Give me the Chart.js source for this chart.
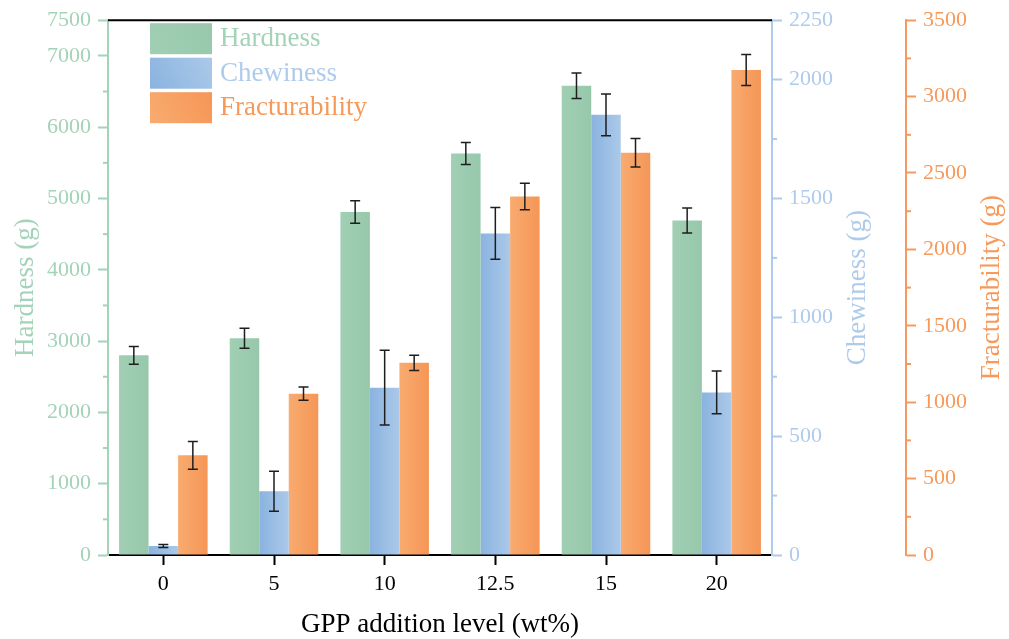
<!DOCTYPE html>
<html>
<head>
<meta charset="utf-8">
<script src="https://cdn.jsdelivr.net/npm/chart.js@4"></script>
<style>
  html, body { margin: 0; padding: 0; background: #fff; }
</style>
</head>
<body>
<canvas id="myChart" width="1009" height="639"></canvas>
<script>
// GPP addition level (wt%)
const levels = ['0', '5', '10', '12.5', '15', '20'];

const hardness = [2800, 3040, 4810, 5630, 6580, 4690];
const hardnessErr = [125, 140, 158, 154, 179, 175];

const chewiness = [38, 268, 704, 1353, 1852, 684];
const chewinessErr = [6, 84, 157, 109, 88, 90];

const fracturability = [652, 1056, 1258, 2346, 2633, 3174];
const fracturabilityErr = [90, 43, 50, 87, 93, 101];

const serif = 'Liberation Serif';
const greenText = '#a3d3b8', blueText = '#aecbeb', orangeText = '#f6995a';

// minor ticks get no label and a short tick
function isMajor(id, v) {
  if (id === 'yH') return v % 1000 === 0 || v === 7500;
  if (id === 'yC') return v % 500 === 0 || v === 2250;
  return v % 500 === 0;
}

const extras = {
  id: 'extras',
  beforeDatasetsDraw(chart) {
    const ctx = chart.ctx;
    chart.data.datasets.forEach((ds, i) => {
      chart.getDatasetMeta(i).data.forEach(bar => {
        const g = ctx.createLinearGradient(bar.x - bar.width / 2, 0, bar.x + bar.width / 2, 0);
        g.addColorStop(0, ds.gradFrom);
        g.addColorStop(1, ds.gradTo);
        bar.options = Object.assign({}, bar.options, { backgroundColor: g });
      });
    });
  },
  afterDatasetsDraw(chart) {
    const ctx = chart.ctx;
    ctx.save();
    ctx.strokeStyle = '#1e1e1e';
    ctx.lineWidth = 1.5;
    chart.data.datasets.forEach((ds, i) => {
      const scale = chart.scales[ds.yAxisID];
      chart.getDatasetMeta(i).data.forEach((bar, j) => {
        const v = ds.data[j], e = ds.err[j];
        const y1 = scale.getPixelForValue(v + e), y2 = scale.getPixelForValue(v - e);
        ctx.beginPath();
        ctx.moveTo(bar.x, y1); ctx.lineTo(bar.x, y2);
        ctx.moveTo(bar.x - 5, y1); ctx.lineTo(bar.x + 5, y1);
        ctx.moveTo(bar.x - 5, y2); ctx.lineTo(bar.x + 5, y2);
        ctx.stroke();
      });
    });
    ctx.restore();
  },
  afterDraw(chart) {
    const ctx = chart.ctx;
    const area = chart.chartArea;
    ctx.save();

    // top frame line
    ctx.strokeStyle = '#000';
    ctx.lineWidth = 2;
    ctx.beginPath();
    ctx.moveTo(area.left, area.top);
    ctx.lineTo(area.right, area.top);
    ctx.stroke();

    // minor ticks
    ['yH', 'yC', 'yF'].forEach(id => {
      const s = chart.scales[id];
      const x0 = id === 'yH' ? s.right : s.left;
      const dir = id === 'yH' ? -1 : 1;
      ctx.strokeStyle = s.options.border.color;
      ctx.lineWidth = 2;
      s.ticks.forEach(t => {
        if (isMajor(id, t.value)) return;
        const y = s.getPixelForValue(t.value);
        ctx.beginPath();
        ctx.moveTo(x0, y);
        ctx.lineTo(x0 + dir * 5, y);
        ctx.stroke();
      });
    });

    // right axis titles, reading bottom to top
    const yC = chart.scales.yC, yF = chart.scales.yF;
    ctx.font = '27px "' + serif + '"';
    ctx.textAlign = 'center';
    ctx.textBaseline = 'middle';
    [[yC, 'Chewiness (g)', blueText, 48], [yF, 'Fracturability (g)', orangeText, 17]].forEach(([s, text, col, off]) => {
      ctx.save();
      ctx.translate(s.right - off, (s.top + s.bottom) / 2);
      ctx.rotate(-Math.PI / 2);
      ctx.fillStyle = col;
      ctx.fillText(text, 0, 0);
      ctx.restore();
    });

    // legend
    const lx = area.left + 42, ly = area.top + 3;
    ctx.textAlign = 'left';
    chart.data.datasets.forEach((ds, i) => {
      const y = ly + i * 34.5;
      const g = ctx.createLinearGradient(lx, y + 31, lx + 62, y);
      g.addColorStop(0, ds.gradFrom);
      g.addColorStop(1, ds.gradTo);
      ctx.fillStyle = g;
      ctx.fillRect(lx, y, 62, 31);
      ctx.fillStyle = ds.textColor;
      ctx.fillText(ds.label, lx + 70, y + 16);
    });
    ctx.restore();
  }
};

function yAxis(color, max, step, weight, position) {
  return {
    type: 'linear',
    position: position,
    weight: weight,
    min: 0,
    max: max,
    border: { color: color, width: 2 },
    grid: {
      drawOnChartArea: false,
      tickLength: 10,
      tickWidth: 2,
      tickColor: c => (c.tick && isMajor(c.scale.id, c.tick.value)) ? color : 'rgba(0,0,0,0)'
    },
    ticks: {
      stepSize: step,
      autoSkip: false,
      padding: 7,
      color: color,
      font: { family: serif, size: 22 },
      callback: function (v) { return isMajor(this.id, v) ? String(v) : ''; }
    }
  };
}

const yH = yAxis(greenText, 7500, 500, 0, 'left');
yH.title = {
  display: true, text: 'Hardness (g)', color: greenText,
  font: { family: serif, size: 27, lineHeight: 1 }, padding: { top: 12.5, bottom: 0 }
};
yH.afterFit = s => { s.width = 108; };

const yC = yAxis(blueText, 2250, 250, 0, 'right');
yC.afterFit = s => { s.width = 134; };

const yF = yAxis(orangeText, 3500, 250, 1, 'right');
yF.afterFit = s => { s.width = 103; };

new Chart(document.getElementById('myChart').getContext('2d'), {
  type: 'bar',
  data: {
    labels: levels,
    datasets: [
      { label: 'Hardness', data: hardness, err: hardnessErr, yAxisID: 'yH',
        backgroundColor: '#9ccbb0', gradFrom: '#a0cfb4', gradTo: '#98c8ac', textColor: greenText },
      { label: 'Chewiness', data: chewiness, err: chewinessErr, yAxisID: 'yC',
        backgroundColor: '#9cbfe4', gradFrom: '#8ab3df', gradTo: '#abc9e9', textColor: blueText },
      { label: 'Fracturability', data: fracturability, err: fracturabilityErr, yAxisID: 'yF',
        backgroundColor: '#f7a062', gradFrom: '#f9ab70', gradTo: '#f59656', textColor: orangeText }
    ]
  },
  options: {
    responsive: false,
    animation: false,
    layout: { padding: { top: 18, left: 0, right: 0, bottom: 0 } },
    datasets: { bar: { categoryPercentage: 0.8, barPercentage: 1.0, borderWidth: 0 } },
    plugins: { legend: { display: false }, tooltip: { enabled: false } },
    scales: {
      x: {
        border: { color: '#000', width: 2 },
        grid: { offset: false, drawOnChartArea: false, tickLength: 10, tickWidth: 2, tickColor: '#000' },
        ticks: { color: '#000', padding: 6, font: { family: serif, size: 22 } },
        title: {
          display: true, text: 'GPP addition level (wt%)', color: '#000',
          font: { family: serif, size: 27, lineHeight: 1 }, padding: { top: 0, bottom: 1 }
        },
        afterFit: s => { s.height = 84; }
      },
      yH: yH,
      yC: yC,
      yF: yF
    }
  },
  plugins: [extras]
});
</script>
</body>
</html>
